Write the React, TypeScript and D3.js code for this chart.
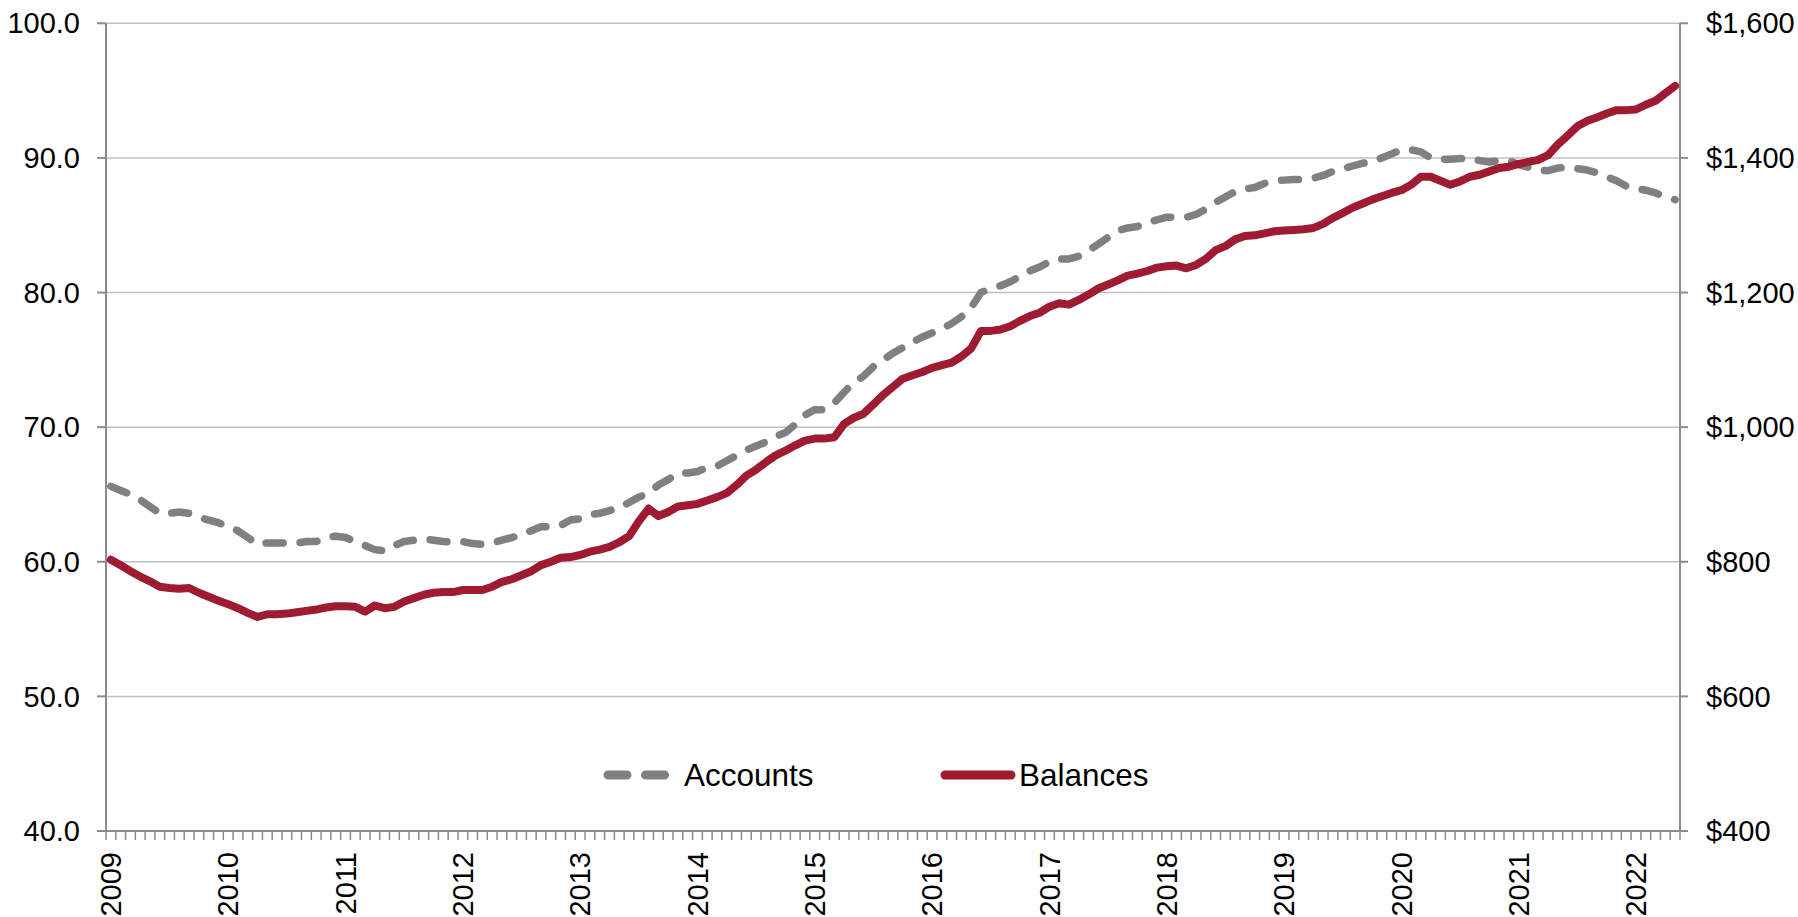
import React from "react";
import * as d3 from "d3";

const years = ["2009","2010","2011","2012","2013","2014","2015","2016","2017","2018","2019","2020","2021","2022"];
const leftTicks = [40, 50, 60, 70, 80, 90, 100];
const rightTicks = [400, 600, 800, 1000, 1200, 1400, 1600];

const accounts = [
  65.6, 65.3, 65.0, 64.6, 64.1, 63.6, 63.6, 63.7, 63.6, 63.3, 63.1, 62.9,
  62.6, 62.3, 61.8, 61.3, 61.4, 61.4, 61.4, 61.4, 61.5, 61.5, 61.8, 61.9,
  61.8, 61.5, 61.2, 60.9, 60.8, 61.2, 61.5, 61.6, 61.7, 61.6, 61.5, 61.45,
  61.5, 61.35, 61.3, 61.4, 61.6, 61.8, 62.0, 62.3, 62.6, 62.6, 62.7, 63.1,
  63.2, 63.5, 63.6, 63.8, 64.0, 64.4, 64.8, 65.1, 65.7, 66.1, 66.6, 66.6,
  66.7, 67.0, 67.1, 67.5, 67.9, 68.3, 68.6, 68.9, 69.3, 69.6, 70.2, 70.9,
  71.3, 71.3, 71.8, 72.6, 73.3, 73.8, 74.5, 75.0, 75.5, 75.9, 76.3, 76.7,
  77.0, 77.3, 77.7, 78.2, 78.9, 80.0, 80.3, 80.5, 80.8, 81.2, 81.6, 81.9,
  82.3, 82.5, 82.5, 82.7, 83.1, 83.6, 84.1, 84.6, 84.8, 84.9, 85.2, 85.4,
  85.6, 85.6, 85.6, 85.8, 86.2, 86.7, 87.1, 87.5, 87.7, 87.8, 88.1, 88.3,
  88.35, 88.4, 88.4, 88.5, 88.7, 89.0, 89.2, 89.4, 89.6, 89.7, 90.0, 90.3,
  90.6, 90.6, 90.45, 90.0, 89.9, 89.9, 89.95, 90.0, 89.8, 89.7, 89.8, 89.8,
  89.5, 89.3, 89.1, 89.05, 89.25, 89.3, 89.2, 89.1, 88.9, 88.6, 88.3, 87.9,
  87.75, 87.6, 87.4, 87.1, 86.9,
];

const balances = [
  803, 795, 786, 778, 771, 763, 761, 760, 761, 754, 748, 742,
  737, 731, 724, 718, 722, 722, 723, 725, 727, 729, 732, 734,
  734, 733, 726, 735, 731, 733, 741, 746, 751, 754, 755, 755,
  758, 758, 758, 763, 770, 774, 780, 786, 795, 800, 806, 807,
  810, 815, 818, 822, 829, 838, 860, 879, 868, 874, 882, 884,
  886, 891, 896, 902, 914, 928, 937, 948, 958, 965, 973, 980,
  983, 983, 985, 1005, 1014, 1020, 1034, 1048, 1060, 1072, 1077, 1082,
  1088, 1092, 1096, 1105, 1117, 1143, 1143, 1145, 1150, 1158, 1165, 1170,
  1179, 1184, 1182, 1189, 1197, 1206, 1212, 1218, 1225, 1228, 1232, 1237,
  1239, 1240, 1236, 1241, 1250, 1263, 1269, 1279, 1284, 1285, 1288, 1291,
  1292, 1293, 1294, 1296, 1302, 1311, 1318, 1326, 1332, 1338, 1343, 1348,
  1352, 1360, 1372, 1372, 1366, 1360, 1365, 1372, 1375, 1380, 1385, 1387,
  1391, 1394, 1397, 1404, 1420, 1433, 1447, 1455, 1460, 1466, 1471, 1471,
  1472, 1479, 1485, 1496, 1507,
];

const months = accounts.map((_, i) => `${years[Math.floor(i / 12)]}-${String((i % 12) + 1).padStart(2, "0")}`);

const W = 1798;
const H = 917;
const L = 106;
const R = 1680;
const T = 23.3;
const B = 831;
const FONT = "'Liberation Sans', Arial, sans-serif";
const GRAY = "#808080";
const RED = "#9E1B32";
const AXIS = "#8C8C8C";
const GRID = "#BFBFBF";
const FS = 29;
const LFS = 31.5;
const LEG_Y = 775;

export default function App() {
  const x = d3.scaleBand<string>().domain(months).range([L, R]).paddingInner(0).paddingOuter(0);
  const bw = x.bandwidth();
  const cx = (m: string) => (x(m) as number) + bw / 2;
  const yL = d3.scaleLinear().domain([40, 100]).range([B, T]);
  const yR = d3.scaleLinear().domain([400, 1600]).range([B, T]);

  const lineA = d3.line<number>().x((_, i) => cx(months[i])).y((d) => yL(d));
  const lineB = d3.line<number>().x((_, i) => cx(months[i])).y((d) => yR(d));

  const tickXs = months.map((m) => x(m) as number).concat([R]);

  return (
    <svg width={W} height={H} style={{ position: "absolute", left: 0, top: 0, display: "block", background: "#fff" }}>
      {leftTicks.filter((t) => t !== 40).map((t) => (
        <line key={"g" + t} x1={L} x2={R} y1={yL(t)} y2={yL(t)} stroke={GRID} strokeWidth={1.5} />
      ))}
      <line x1={L} x2={L} y1={T} y2={B} stroke={AXIS} strokeWidth={2} />
      {leftTicks.map((t) => (
        <g key={"l" + t}>
          <line x1={L - 9} x2={L} y1={yL(t)} y2={yL(t)} stroke={AXIS} strokeWidth={2} />
          <text x={80} y={yL(t)} dy="0.35em" textAnchor="end" fontFamily={FONT} fontSize={FS} fill="#000">
            {t.toFixed(1)}
          </text>
        </g>
      ))}
      <line x1={R} x2={R} y1={T} y2={B} stroke={AXIS} strokeWidth={2} />
      {rightTicks.map((t) => (
        <g key={"r" + t}>
          <line x1={R} x2={R + 8} y1={yR(t)} y2={yR(t)} stroke={AXIS} strokeWidth={2} />
          <text x={1706} y={yR(t)} dy="0.35em" textAnchor="start" fontFamily={FONT} fontSize={FS} fill="#000">
            {d3.format("$,")(t)}
          </text>
        </g>
      ))}
      <line x1={L - 9} x2={R + 8} y1={B} y2={B} stroke={AXIS} strokeWidth={2} />
      {tickXs.map((tx, k) => (
        <line key={"t" + k} x1={tx} x2={tx} y1={B} y2={B + 9} stroke={AXIS} strokeWidth={1.5} />
      ))}
      {years.map((yr, k) => {
        const m = months[k * 12];
        if (m === undefined) return null;
        return (
          <text key={yr} transform={`translate(${cx(m)},${852}) rotate(-90)`} dy="0.35em" textAnchor="end" fontFamily={FONT} fontSize={FS} fill="#000">
            {yr}
          </text>
        );
      })}
      <path d={lineA(accounts) || ""} fill="none" stroke={GRAY} strokeWidth={7.5} strokeDasharray="17 17" strokeLinecap="round" strokeLinejoin="round" />
      <path d={lineB(balances) || ""} fill="none" stroke={RED} strokeWidth={8} strokeLinecap="round" strokeLinejoin="round" />
      <line x1={608} x2={664.5} y1={LEG_Y} y2={LEG_Y} stroke={GRAY} strokeWidth={9} strokeDasharray="19 18.5" strokeLinecap="round" />
      <text x={684} y={LEG_Y} dy="0.35em" fontFamily={FONT} fontSize={LFS} fill="#000">Accounts</text>
      <line x1={945} x2={1011} y1={LEG_Y} y2={LEG_Y} stroke={RED} strokeWidth={9} strokeLinecap="round" />
      <text x={1019} y={LEG_Y} dy="0.35em" fontFamily={FONT} fontSize={LFS} fill="#000">Balances</text>
    </svg>
  );
}
